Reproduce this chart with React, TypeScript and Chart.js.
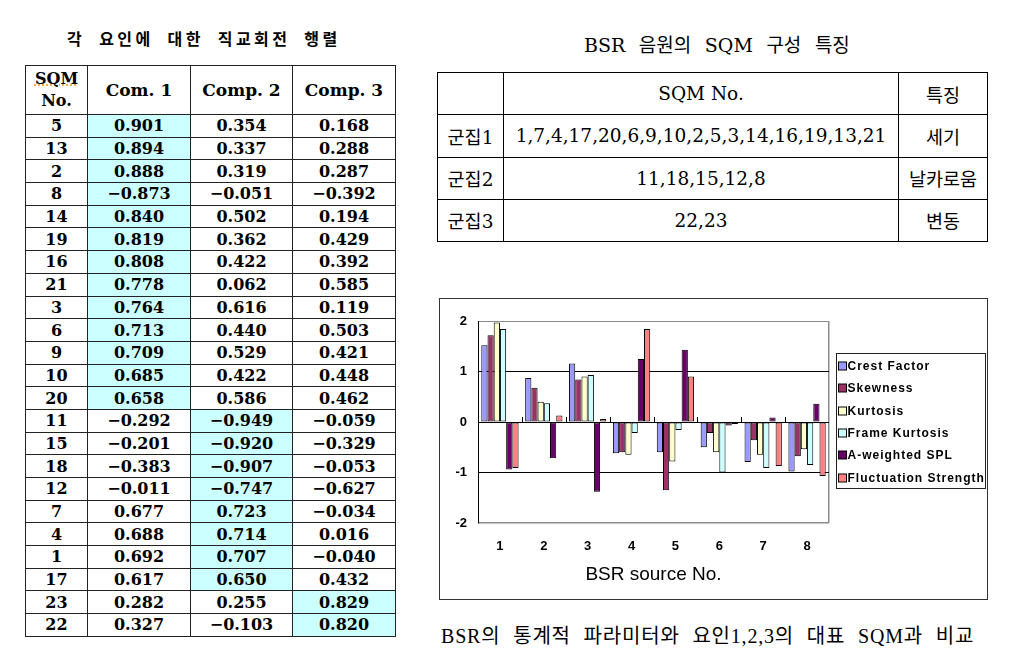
import React, { useEffect, useRef } from 'react';
import { Chart, registerables } from 'chart.js';

Chart.register(...registerables);

// ---------- bar chart data ----------
const sources = ['1', '2', '3', '4', '5', '6', '7', '8'];
const crestFactor = [1.52, 0.87, 1.16, -0.62, -0.6, -0.5, -0.79, -0.98];
const skewness = [1.72, 0.68, 0.84, -0.6, -1.35, -0.22, -0.36, -0.68];
const kurtosis = [1.97, 0.4, 0.9, -0.65, -0.78, -0.6, -0.65, -0.54];
const frameKurtosis = [1.84, 0.37, 0.93, -0.22, -0.16, -1.0, -0.91, -0.85];
const aWeightedSPL = [-0.94, -0.72, -1.38, 1.25, 1.43, -0.07, 0.09, 0.36];
const fluctuationStrength = [-0.91, 0.13, 0.06, 1.84, 0.9, -0.04, -0.87, -1.07];
const seriesNames = ['Crest Factor', 'Skewness', 'Kurtosis', 'Frame Kurtosis', 'A-weighted SPL', 'Fluctuation Strength'];
const seriesColors = ['#9999FF', '#993366', '#FFFFCC', '#CCFFFF', '#660066', '#FF8080'];
const yMin = -2;
const yMax = 2;
const yStep = 1;
const xTitle = 'BSR source No.';

// ---------- left table data ----------
const leftTitle = '각 요인에 대한 직교회전 행렬';
const compHeaders = ['Com. 1', 'Comp. 2', 'Comp. 3'];
const sqmNo = [5, 13, 2, 8, 14, 19, 16, 21, 3, 6, 9, 10, 20, 11, 15, 18, 12, 7, 4, 1, 17, 23, 22];
const comp1 = [0.901, 0.894, 0.888, -0.873, 0.84, 0.819, 0.808, 0.778, 0.764, 0.713, 0.709, 0.685, 0.658, -0.292, -0.201, -0.383, -0.011, 0.677, 0.688, 0.692, 0.617, 0.282, 0.327];
const comp2 = [0.354, 0.337, 0.319, -0.051, 0.502, 0.362, 0.422, 0.062, 0.616, 0.44, 0.529, 0.422, 0.586, -0.949, -0.92, -0.907, -0.747, 0.723, 0.714, 0.707, 0.65, 0.255, -0.103];
const comp3 = [0.168, 0.288, 0.287, -0.392, 0.194, 0.429, 0.392, 0.585, 0.119, 0.503, 0.421, 0.448, 0.462, -0.059, -0.329, -0.053, -0.627, -0.034, 0.016, -0.04, 0.432, 0.829, 0.82];
const dominantComp = [1, 1, 1, 1, 1, 1, 1, 1, 1, 1, 1, 1, 1, 2, 2, 2, 2, 2, 2, 2, 2, 3, 3];

// ---------- right table data ----------
const rightTitle = 'BSR 음원의 SQM 구성 특징';
const clusterNames = ['군집1', '군집2', '군집3'];
const clusterMembers = ['1,7,4,17,20,6,9,10,2,5,3,14,16,19,13,21', '11,18,15,12,8', '22,23'];
const clusterFeatures = ['세기', '날카로움', '변동'];
const caption = 'BSR의 통계적 파라미터와 요인1,2,3의 대표 SQM과 비교';

const fmt = (v: number) => (v < 0 ? '\u2212' : '') + Math.abs(v).toFixed(3);

const HL = '#CCFFFF';

// category-boundary tick marks sitting on the zero line (Excel "cross" ticks)
const zeroTicksPlugin = {
  id: 'zeroTicks',
  afterDatasetsDraw(chart: any) {
    const { ctx } = chart;
    const xs = chart.scales.x;
    const ys = chart.scales.y;
    const y0 = Math.round(ys.getPixelForValue(0));
    const n = xs.ticks.length;
    ctx.save();
    ctx.strokeStyle = '#000';
    ctx.lineWidth = 1;
    for (let i = 1; i < n; i++) {
      const bx = Math.round((xs.getPixelForTick(i - 1) + xs.getPixelForTick(i)) / 2) + 0.5;
      ctx.beginPath();
      ctx.moveTo(bx, y0);
      ctx.lineTo(bx, y0 - 5);
      ctx.stroke();
    }
    ctx.restore();
  },
};

const legendBoxPlugin = {
  id: 'legendBox',
  afterDraw(chart: any) {
    const { ctx, chartArea } = chart;
    const x0 = Math.round(chartArea.right + 7) + 0.5;
    const y0 = Math.round(chartArea.top + 32) + 0.5;
    const w = 149;
    const h = 135;
    ctx.save();
    ctx.strokeStyle = '#222';
    ctx.lineWidth = 1;
    ctx.strokeRect(x0, y0, w, h);
    ctx.font = 'bold 12px "Liberation Sans", Arial, sans-serif';
    try { (ctx as any).letterSpacing = '1px'; } catch (e) {}
    ctx.textBaseline = 'middle';
    ctx.textAlign = 'left';
    chart.data.datasets.forEach((ds: any, i: number) => {
      const cy = Math.round(y0 + 12.5 + i * 22.3);
      ctx.fillStyle = ds.backgroundColor;
      ctx.fillRect(x0 + 2, cy - 4, 8, 8);
      ctx.strokeStyle = '#000';
      ctx.strokeRect(x0 + 2, cy - 4, 8, 8);
      ctx.fillStyle = '#000';
      ctx.fillText(ds.label, x0 + 11, cy + 0.5);
    });
    ctx.restore();
  },
};

function BarChart() {
  const ref = useRef<HTMLCanvasElement | null>(null);
  useEffect(() => {
    if (!ref.current) return;
    const values = [crestFactor, skewness, kurtosis, frameKurtosis, aWeightedSPL, fluctuationStrength];
    const chart = new Chart(ref.current, {
      type: 'bar',
      data: {
        labels: sources,
        datasets: values.map((d, i) => ({
          label: seriesNames[i],
          data: d,
          backgroundColor: seriesColors[i],
          borderColor: '#000',
          borderWidth: 1,
          borderSkipped: false,
          categoryPercentage: 0.85,
          barPercentage: 1.0,
        })),
      },
      options: {
        responsive: false,
        maintainAspectRatio: false,
        animation: false,
        layout: { padding: { left: 0, top: 22, right: 158, bottom: 0 } },
        plugins: { legend: { display: false }, tooltip: { enabled: false } },
        scales: {
          x: {
            type: 'category',
            offset: true,
            afterFit: (s: any) => { s.height = 76; },
            grid: {
              display: true,
              offset: true,
              drawOnChartArea: true,
              drawTicks: false,
              color: (c: any) => (c.type === 'scale' ? '#8c8c8c' : 'rgba(0,0,0,0)'),
              lineWidth: 1.5,
            },
            border: { display: false },
            ticks: {
              padding: 16,
              color: '#000',
              font: { family: '"Liberation Sans", Arial, sans-serif', size: 13, weight: 'bold' },
            },
            title: {
              display: true,
              text: xTitle,
              color: '#000',
              font: { family: '"Liberation Sans", Arial, sans-serif', size: 19 },
              padding: { top: 0, bottom: 13 },
            },
          },
          y: {
            min: yMin,
            max: yMax,
            afterFit: (s: any) => { s.width = 38; },
            ticks: {
              stepSize: yStep,
              padding: 11,
              color: '#000',
              font: { family: '"Liberation Sans", Arial, sans-serif', size: 13, weight: 'bold' },
            },
            grid: {
              drawTicks: false,
              color: (c: any) => (c.tick && Math.abs(c.tick.value) === 2 ? '#8c8c8c' : '#000'),
              lineWidth: (c: any) => (c.tick && c.tick.value === -2 ? 1.5 : 1),
            },
            border: { display: true, color: '#000', width: 1 },
          },
        },
      } as any,
      plugins: [zeroTicksPlugin, legendBoxPlugin],
    });
    return () => chart.destroy();
  }, []);
  return <canvas ref={ref} width={547} height={300} style={{ display: 'block', width: 547, height: 300 }} />;
}

const monoBold = '"DejaVu Serif", "Noto Sans CJK KR", serif';

function LeftTable() {
  const colW = [61, 102, 101, 102];
  const cell = (content: React.ReactNode, bg: string, key: string, extra: React.CSSProperties = {}) => (
    <div
      key={key}
      style={{
        background: bg,
        display: 'flex',
        alignItems: 'center',
        justifyContent: 'center',
        fontFamily: monoBold,
        fontWeight: 'bold',
        fontSize: 16,
        color: '#000',
        whiteSpace: 'nowrap',
        ...extra,
      }}
    >
      {content}
    </div>
  );
  const cells: React.ReactNode[] = [];
  cells.push(
    cell(
      <div style={{ textAlign: 'center', lineHeight: '22px' }}>
        <span style={{ textDecoration: 'underline dotted #f39c12' }}>SQM</span>
        <br />
        No.
      </div>,
      '#fff',
      'h0'
    )
  );
  compHeaders.forEach((h, i) => cells.push(cell(h, '#fff', 'h' + (i + 1), { fontSize: 17, whiteSpace: 'pre' })));
  sqmNo.forEach((n, r) => {
    cells.push(cell(String(n), '#fff', 'n' + r));
    [comp1, comp2, comp3].forEach((arr, c) => {
      cells.push(cell(fmt(arr[r]), dominantComp[r] === c + 1 ? HL : '#fff', 'c' + r + '_' + c));
    });
  });
  return (
    <div
      style={{
        position: 'absolute',
        left: 25,
        top: 65,
        display: 'grid',
        gridTemplateColumns: colW.map((w) => w + 'px').join(' '),
        gridTemplateRows: '48px repeat(23, 21.7px)',
        gap: 1,
        padding: 1,
        background: '#222',
      }}
    >
      {cells}
    </div>
  );
}

const serifKr = '"DejaVu Serif", "Noto Sans CJK KR", serif';

function RightTable() {
  const cells: React.ReactNode[] = [];
  const c = (content: string, key: string) => (
    <div
      key={key}
      style={{
        background: '#fff',
        display: 'flex',
        alignItems: 'center',
        justifyContent: 'center',
        fontFamily: serifKr,
        fontSize: 18.5,
        color: '#000',
        whiteSpace: 'nowrap',
      }}
    >
      {content}
    </div>
  );
  cells.push(c('', 'h0'));
  cells.push(c('SQM No.', 'h1'));
  cells.push(c('특징', 'h2'));
  clusterNames.forEach((n, i) => {
    cells.push(c(n, 'a' + i));
    cells.push(c(clusterMembers[i], 'b' + i));
    cells.push(c(clusterFeatures[i], 'f' + i));
  });
  return (
    <div
      style={{
        position: 'absolute',
        left: 437,
        top: 72,
        display: 'grid',
        gridTemplateColumns: '65px 394px 88px',
        gridTemplateRows: 'repeat(4, 41.25px)',
        gap: 1,
        padding: 1,
        background: '#000',
      }}
    >
      {cells}
    </div>
  );
}

export default function App() {
  return (
    <div style={{ position: 'relative', width: 1009, height: 667, background: '#fff' }}>
      <div
        style={{
          position: 'absolute',
          left: 67 - 8,
          top: 28 - 8,
          fontFamily: '"Noto Sans CJK KR", sans-serif',
          fontWeight: 'bold',
          fontSize: 16,
          lineHeight: '20px',
          letterSpacing: 3.4,
          wordSpacing: 7,
          whiteSpace: 'nowrap',
          color: '#000',
        }}
      >
        {leftTitle}
      </div>
      <div
        style={{
          position: 'absolute',
          left: 584 - 8,
          top: 34 - 8,
          fontFamily: serifKr,
          fontSize: 19,
          lineHeight: '22px',
          wordSpacing: 7.5,
          whiteSpace: 'nowrap',
          color: '#000',
        }}
      >
        {rightTitle}
      </div>
      <div style={{ position: 'absolute', left: -8, top: -8 }}>
        <LeftTable />
        <RightTable />
        <div
          style={{
            position: 'absolute',
            left: 439,
            top: 298,
            width: 549,
            height: 302,
            boxSizing: 'border-box',
            border: '1px solid #333',
            background: '#fff',
          }}
        >
          <BarChart />
        </div>
        <div
          style={{
            position: 'absolute',
            left: 441,
            top: 624,
            fontFamily: '"Liberation Serif", "Noto Sans CJK KR", serif',
            fontSize: 20,
            lineHeight: '24px',
            letterSpacing: 0.8,
            wordSpacing: 7,
            whiteSpace: 'nowrap',
            color: '#000',
          }}
        >
          {caption}
        </div>
      </div>
    </div>
  );
}
